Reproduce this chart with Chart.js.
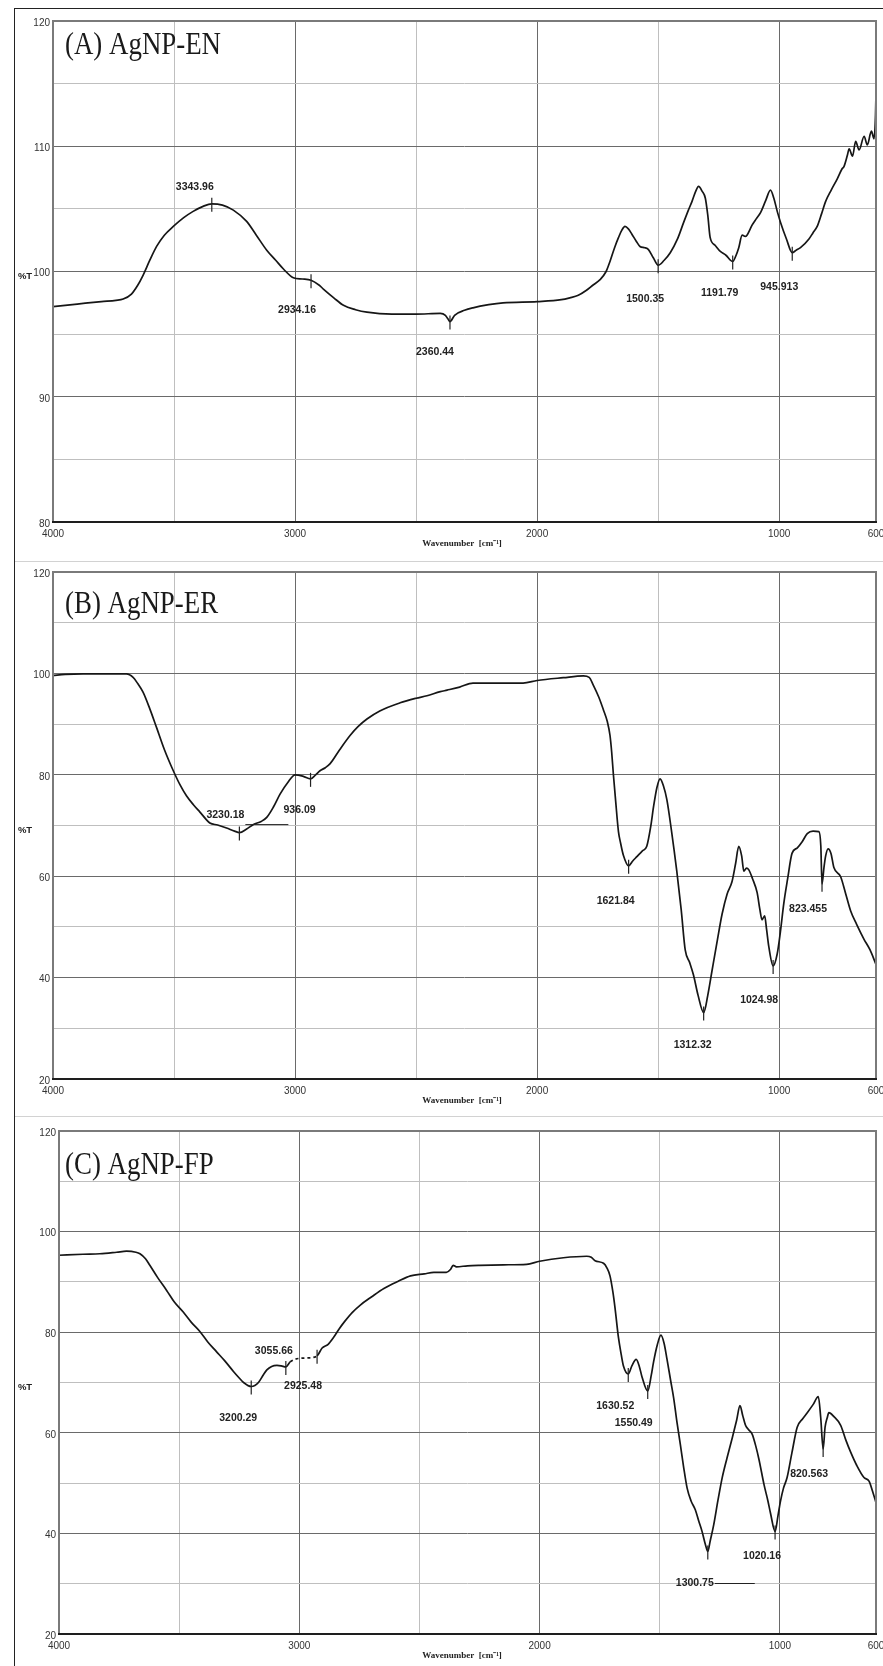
<!DOCTYPE html>
<html>
<head>
<meta charset="utf-8">
<title>FTIR spectra AgNP</title>
<script src="https://cdn.jsdelivr.net/npm/chart.js@4.4.0/dist/chart.umd.min.js"></script>
<style>
  html, body { margin: 0; padding: 0; background: #fff; }
  #page { position: relative; width: 883px; height: 1666px; overflow: hidden; }
  #page canvas { position: absolute; left: 0; display: block; }
  #frame { position: absolute; left: 14px; top: 8px; right: -2px; bottom: -2px;
           border-left: 1px solid #222; border-top: 1px solid #222; pointer-events: none; }
  .sep { position: absolute; left: 15px; right: 0; height: 1px; background: #d2d2d2; }
</style>
</head>
<body>
<div id="page">
  <canvas id="chartA" width="883" height="562" style="top:0"></canvas>
  <canvas id="chartB" width="883" height="555" style="top:562px"></canvas>
  <canvas id="chartC" width="883" height="549" style="top:1117px"></canvas>
  <div class="sep" style="top:561px"></div>
  <div class="sep" style="top:1116px"></div>
  <div id="frame"></div>
</div>
<script>
// x axis (wavenumber, cm-1): grid every 500, labels only at these
const xGridTicks = [4000, 3500, 3000, 2500, 2000, 1500, 1000, 600];
const xTickLabels = [4000, 3000, 2000, 1000, 600];
const yTickLabelsA = [80, 90, 100, 110, 120];
const yTickLabelsBC = [20, 40, 60, 80, 100, 120];

// (A) AgNP-EN
const enWavenumber = [4000, 3900, 3800, 3740, 3710, 3676, 3650, 3628, 3600, 3572,
  3540, 3503, 3460, 3421, 3380, 3344, 3300, 3255, 3200, 3160,
  3117, 3080, 3048, 3007, 2970, 2934, 2900, 2883, 2840, 2800,
  2750, 2703, 2600, 2500, 2400, 2379, 2368, 2360, 2341, 2300,
  2265, 2200, 2141, 2000, 1900, 1865, 1830, 1796, 1770, 1740,
  1715, 1699, 1680, 1664, 1650, 1637, 1623, 1609, 1590, 1575,
  1555, 1540, 1520, 1500, 1475, 1450, 1420, 1395, 1375, 1360,
  1345, 1333, 1318, 1305, 1295, 1285, 1265, 1243, 1220, 1192,
  1180, 1167, 1153, 1140, 1133, 1112, 1095, 1077, 1055, 1036,
  1022, 1008, 994, 970, 946, 930, 912, 877, 860, 843,
  825, 808, 785, 760, 740, 732, 718, 711, 697, 684,
  670, 649, 636, 619, 608, 602, 600];
const enTransmit = [97.2, 97.4, 97.6, 97.7, 97.8, 98.2, 98.9, 99.7, 100.9, 102.0,
  102.9, 103.6, 104.3, 104.8, 105.2, 105.4, 105.3, 104.9, 104.0, 102.9,
  101.7, 100.9, 100.2, 99.5, 99.4, 99.3, 98.9, 98.6, 97.9, 97.3,
  96.95, 96.75, 96.6, 96.6, 96.65, 96.5, 96.2, 96.0, 96.5, 96.9,
  97.1, 97.35, 97.5, 97.6, 97.75, 97.9, 98.1, 98.5, 98.9, 99.35,
  100.0, 100.8, 101.9, 102.7, 103.3, 103.6, 103.4, 103.0, 102.4, 102.0,
  101.9, 101.75, 101.1, 100.5, 100.9, 101.5, 102.6, 103.9, 104.9, 105.6,
  106.4, 106.8, 106.4, 105.85, 104.5, 102.7, 102.1, 101.6, 101.3, 100.8,
  101.2, 101.9, 102.9, 102.8, 102.9, 103.7, 104.2, 104.7, 105.7, 106.5,
  105.85, 104.8, 103.9, 102.6, 101.5, 101.7, 101.9, 102.6, 103.1, 103.6,
  104.6, 105.6, 106.5, 107.4, 108.2, 108.4, 109.3, 109.8, 109.2, 110.4,
  109.7, 110.8, 110.1, 111.2, 110.6, 112.5, 114.3];
const enPeaks = [3343.96, 2934.16, 2360.44, 1500.35, 1191.79, 945.913];
const enPeakLabels = ['3343.96', '2934.16', '2360.44', '1500.35', '1191.79', '945.913'];

// (B) AgNP-ER
const erWavenumber = [4000, 3950, 3876, 3780, 3697, 3669, 3650, 3628, 3600, 3572,
  3540, 3503, 3475, 3448, 3420, 3393, 3352, 3320, 3283, 3250,
  3230, 3200, 3172, 3140, 3117, 3090, 3062, 3030, 3000, 2966,
  2936, 2915, 2897, 2875, 2855, 2815, 2772, 2740, 2703, 2650,
  2566, 2500, 2455, 2400, 2372, 2320, 2265, 2150, 2058, 2000,
  1892, 1809, 1785, 1768, 1745, 1726, 1710, 1699, 1692, 1685,
  1675, 1664, 1655, 1644, 1622, 1605, 1589, 1565, 1547, 1530,
  1519, 1505, 1492, 1478, 1464, 1445, 1423, 1405, 1388, 1370,
  1354, 1335, 1312, 1295, 1278, 1255, 1236, 1215, 1195, 1180,
  1167, 1155, 1146, 1135, 1126, 1110, 1091, 1080, 1071, 1060,
  1052, 1043, 1025, 1008, 995, 981, 965, 947, 925, 905,
  884, 860, 836, 828, 823, 815, 808, 798, 786, 774,
  746, 725, 705, 680, 650, 625, 600];
const erTransmit = [99.6, 99.8, 99.9, 99.9, 99.9, 99.2, 98.0, 96.3, 93.0, 89.3,
  85.0, 80.8, 78.0, 75.8, 74.1, 72.65, 70.5, 70.1, 69.5, 68.9,
  68.6, 69.3, 70.2, 70.8, 71.6, 73.6, 76.2, 78.5, 80.0, 79.7,
  79.2, 80.0, 80.8, 81.4, 82.2, 85.0, 87.8, 89.5, 91.0, 92.6,
  94.2, 95.1, 95.6, 96.4, 96.7, 97.3, 98.1, 98.1, 98.1, 98.6,
  99.15, 99.5, 99.2, 97.7, 95.3, 92.8, 90.5, 87.8, 84.5, 80.1,
  74.5, 68.8, 66.5, 64.2, 62.05, 63.0, 63.8, 65.0, 65.9, 70.0,
  73.7, 77.5, 79.2, 77.8, 75.1, 69.0, 61.0, 53.5, 45.4, 43.0,
  40.5, 36.5, 33.1, 36.5, 41.2, 47.5, 52.5, 56.5, 58.9, 62.5,
  65.9, 64.0, 61.0, 61.6, 61.3, 59.5, 56.75, 53.5, 51.4, 52.2,
  49.5, 46.15, 42.3, 44.7, 49.0, 54.6, 59.5, 64.5, 65.6, 66.8,
  68.4, 68.9, 68.8, 66.0, 58.5, 61.7, 64.0, 65.4, 64.5, 61.7,
  59.9, 56.5, 53.2, 50.5, 47.6, 45.5, 42.6];
const erPeaks = [3230.18, 2936.09, 1621.84, 1312.32, 1024.98, 823.455];
const erPeakLabels = ['3230.18', '936.09', '1621.84', '1312.32', '1024.98', '823.455'];

// (C) AgNP-FP
const fpWavenumber = [4000, 3900, 3830, 3760, 3719, 3680, 3663, 3640, 3622, 3590,
  3552, 3520, 3483, 3450, 3413, 3380, 3344, 3310, 3274, 3250,
  3232, 3200, 3185, 3170, 3150, 3135, 3115, 3093, 3075, 3056,
  3038, 3000, 2960, 2926, 2905, 2880, 2857, 2835, 2815, 2780,
  2746, 2700, 2648, 2590, 2537, 2480, 2440, 2400, 2388, 2370,
  2360, 2346, 2300, 2249, 2150, 2054, 2000, 1901, 1804, 1785,
  1769, 1734, 1720, 1707, 1695, 1686, 1672, 1660, 1651, 1631,
  1616, 1598, 1585, 1574, 1550, 1535, 1526, 1510, 1495, 1482,
  1470, 1455, 1442, 1428, 1414, 1400, 1386, 1370, 1352, 1338,
  1324, 1310, 1300, 1290, 1275, 1258, 1240, 1220, 1198, 1180,
  1166, 1155, 1143, 1130, 1115, 1100, 1087, 1066, 1050, 1039,
  1020, 1008, 997, 985, 970, 950, 928, 905, 886, 862,
  840, 830, 820, 812, 803, 796, 775, 747, 725, 705,
  680, 650, 629, 615, 600];
const fpTransmit = [95.3, 95.5, 95.6, 95.9, 96.1, 95.9, 95.6, 94.6, 93.3, 90.9,
  88.3, 86.0, 84.0, 82.0, 80.1, 78.0, 76.1, 74.3, 72.2, 70.9,
  70.0, 69.2, 69.4, 70.0, 71.5, 72.5, 73.2, 73.4, 73.3, 73.1,
  74.1, 74.8, 74.9, 75.3, 76.85, 77.6, 79.0, 80.6, 81.9, 83.9,
  85.4, 87.0, 88.7, 90.1, 91.2, 91.6, 91.9, 91.9, 91.9, 92.5,
  93.3, 93.0, 93.2, 93.3, 93.4, 93.5, 94.1, 94.8, 95.1, 94.9,
  94.2, 93.7, 92.8, 91.2, 88.0, 84.8, 79.0, 75.5, 73.3, 71.7,
  73.3, 74.6, 73.2, 71.15, 68.3, 71.5, 74.0, 77.5, 79.4, 77.8,
  74.7, 70.5, 66.9, 62.0, 57.6, 53.0, 49.0, 46.5, 44.7, 42.5,
  40.4, 37.8, 36.4, 38.5, 41.8, 46.5, 51.1, 55.0, 59.0, 62.5,
  65.4, 63.5, 61.5, 60.6, 59.7, 57.3, 54.7, 49.7, 46.5, 44.0,
  40.4, 43.5, 46.5, 49.0, 51.1, 56.0, 61.1, 62.8, 64.0, 65.6,
  67.2, 63.0, 56.8, 61.1, 63.0, 64.0, 63.2, 61.5, 58.5, 56.1,
  53.5, 51.1, 50.4, 48.5, 46.1];
const fpPeaks = [3200.29, 3055.66, 2925.48, 1630.52, 1550.49, 1300.75, 1020.16, 820.563];
const fpPeakLabels = ['3200.29', '3055.66', '2925.48', '1630.52', '1550.49', '1300.75', '1020.16', '820.563'];

// layout / style per panel
const panels = [
  { id: 'chartA', title: '(A) AgNP-EN', wn: enWavenumber, t: enTransmit,
    peaks: enPeaks, peakLabels: enPeakLabels, yLabels: yTickLabelsA,
    yMin: 80, yMax: 120, yStep: 5, padTop: 21, axisW: 53, axisH: 40, titleDy: 33,
    labelDx: [-17, -14, -15, -13, -13, -13], labelDy: [-17, 30, 31, 34, 32, 34],
    leaders: [], dashed: null },
  { id: 'chartB', title: '(B) AgNP-ER', wn: erWavenumber, t: erTransmit,
    peaks: erPeaks, peakLabels: erPeakLabels, yLabels: yTickLabelsBC,
    yMin: 20, yMax: 120, yStep: 10, padTop: 10, axisW: 53, axisH: 38, titleDy: 41,
    labelDx: [-14, -11, -13, -11, -14, -14], labelDy: [-17, 31, 35, 33, 34, 25],
    leaders: [{ i: 0, dy: 9, len: 43 }], dashed: null },
  { id: 'chartC', title: '(C) AgNP-FP', wn: fpWavenumber, t: fpTransmit,
    peaks: fpPeaks, peakLabels: fpPeakLabels, yLabels: yTickLabelsBC,
    yMin: 20, yMax: 120, yStep: 10, padTop: 14, axisW: 59, axisH: 32, titleDy: 43,
    labelDx: [-13, -12, -14, -13, -14, -13, -13, -14], labelDy: [32, -16, 30, 32, 32, 32, 25, 25],
    leaders: [{ i: 5, dy: 0, len: 40 }], dashed: [3038, 2926] }
];

const tickFont = { family: "'Liberation Sans Narrow', 'Liberation Sans', Arial, sans-serif", size: 10 };
const darkGrid = '#6a6a6a', lightGrid = '#bfbfbf';

function nearest(arr, v) {
  let k = 0;
  arr.forEach((w, i) => { if (Math.abs(w - v) < Math.abs(arr[k] - v)) k = i; });
  return k;
}

// peak marks, panel title, axis titles and plot frame
const annotate = {
  id: 'annotate',
  afterDatasetsDraw(chart, args, opts) {
    const p = opts.panel;
    const { ctx, scales: { x, y } } = chart;
    ctx.save();
    ctx.strokeStyle = '#222';
    ctx.fillStyle = '#222';
    ctx.lineWidth = 1.2;
    ctx.font = 'bold 10.5px "Liberation Sans", Arial, sans-serif';
    ctx.textAlign = 'center';
    ctx.textBaseline = 'middle';
    p.peaks.forEach((wn, i) => {
      const k = nearest(p.wn, wn);
      const px = x.getPixelForValue(p.wn[k]);
      const py = y.getPixelForValue(p.t[k]);
      ctx.beginPath();
      ctx.moveTo(px, py - 6);
      ctx.lineTo(px, py + 8);
      ctx.stroke();
      const lx = px + p.labelDx[i], ly = py + p.labelDy[i];
      ctx.fillText(p.peakLabels[i], lx, ly);
      p.leaders.filter(l => l.i === i).forEach(l => {
        const w = ctx.measureText(p.peakLabels[i]).width;
        ctx.lineWidth = 1;
        ctx.beginPath();
        ctx.moveTo(lx + w / 2 + 1, ly + l.dy);
        ctx.lineTo(lx + w / 2 + 1 + l.len, ly + l.dy);
        ctx.stroke();
        ctx.lineWidth = 1.2;
      });
    });
    ctx.restore();
  },
  afterDraw(chart, args, opts) {
    const p = opts.panel;
    const { ctx, chartArea: a } = chart;
    ctx.save();
    // frame
    ctx.lineWidth = 2;
    ctx.strokeStyle = '#7a7a7a';
    ctx.beginPath();
    ctx.moveTo(a.left, a.bottom);
    ctx.lineTo(a.left, a.top);
    ctx.lineTo(a.right, a.top);
    ctx.lineTo(a.right, a.bottom);
    ctx.stroke();
    ctx.strokeStyle = '#1e1e1e';
    ctx.beginPath();
    ctx.moveTo(a.left - 1, a.bottom);
    ctx.lineTo(a.right + 1, a.bottom);
    ctx.stroke();
    // panel title
    ctx.fillStyle = '#1a1a1a';
    ctx.save();
    ctx.translate(65, a.top + p.titleDy);
    ctx.scale(0.84, 1);
    ctx.font = '32px "Liberation Serif", "Times New Roman", serif';
    ctx.textAlign = 'left';
    ctx.textBaseline = 'alphabetic';
    ctx.fillText(p.title, 0, 0);
    ctx.restore();
    // axis titles
    ctx.textAlign = 'center';
    ctx.textBaseline = 'middle';
    ctx.fillStyle = '#222';
    ctx.font = 'bold 9.5px "Liberation Sans", Arial, sans-serif';
    ctx.fillText('%T', 25, (a.top + a.bottom) / 2 + 5);
    ctx.font = 'bold 9px "Liberation Serif", "Times New Roman", serif';
    ctx.fillText('Wavenumber  [cm\u207B\u00B9]', 462, a.bottom + 22);
    ctx.restore();
  }
};

panels.forEach(p => {
  const inDash = c => p.dashed && c.p0.parsed.x <= p.dashed[0] && c.p1.parsed.x >= p.dashed[1];
  new Chart(document.getElementById(p.id), {
    type: 'line',
    data: {
      datasets: [{
        data: p.wn.map((w, i) => ({ x: w, y: p.t[i] })),
        borderColor: '#161616',
        borderWidth: 1.7,
        pointRadius: 0,
        fill: false,
        cubicInterpolationMode: 'monotone',
        segment: { borderDash: c => inDash(c) ? [3, 3] : undefined }
      }]
    },
    options: {
      responsive: false,
      animation: false,
      devicePixelRatio: 1,
      events: [],
      layout: { padding: { top: p.padTop, right: 7, left: 0, bottom: 0 } },
      plugins: {
        legend: { display: false },
        tooltip: { enabled: false },
        annotate: { panel: p }
      },
      scales: {
        x: {
          type: 'linear',
          reverse: true,
          min: 600,
          max: 4000,
          afterBuildTicks: s => { s.ticks = xGridTicks.map(v => ({ value: v })); },
          afterFit: s => { s.height = p.axisH; s.paddingLeft = 0; s.paddingRight = 0; },
          ticks: {
            autoSkip: false, maxRotation: 0, minRotation: 0, padding: 6,
            color: '#333', font: tickFont,
            callback: v => xTickLabels.includes(v) ? String(v) : ''
          },
          grid: {
            drawTicks: false, lineWidth: 1,
            color: c => (c.tick && xTickLabels.includes(c.tick.value)) ? darkGrid : lightGrid
          },
          border: { display: false }
        },
        y: {
          min: p.yMin,
          max: p.yMax,
          afterFit: s => { s.width = p.axisW; s.paddingTop = 0; s.paddingBottom = 0; },
          ticks: {
            stepSize: p.yStep, padding: 3, labelOffset: 2,
            color: '#333', font: tickFont,
            callback: v => p.yLabels.includes(v) ? String(v) : ''
          },
          grid: {
            drawTicks: false, lineWidth: 1,
            color: c => (c.tick && p.yLabels.includes(c.tick.value)) ? darkGrid : lightGrid
          },
          border: { display: false }
        }
      }
    },
    plugins: [annotate]
  });
});
</script>
</body>
</html>
